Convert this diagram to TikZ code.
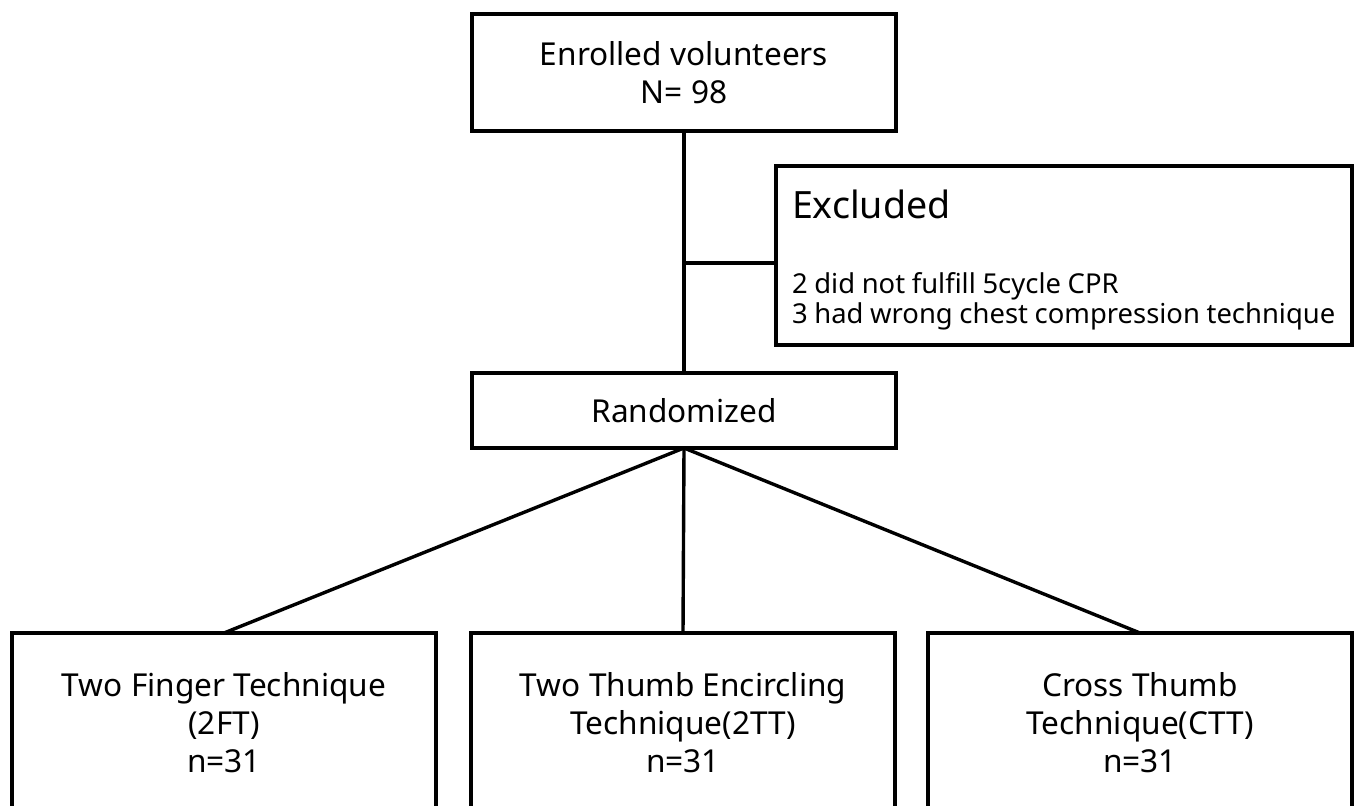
\documentclass[tikz,border=0pt]{standalone}
\usepackage{fontspec}
\setmainfont{Noto Sans}
\usepackage{tikz}
\newcommand{\defaultboxwidth}{212pt}
\newcommand{\mainfont}{\fontsize{15.8}{19}\selectfont}
\newcommand{\smallfont}{\fontsize{13.7}{16}\selectfont}
\newcommand{\headfont}{\fontsize{18.8}{20}\selectfont}
\tikzstyle{box}=[draw, inner sep=0, outer sep=0, align=center, minimum width=\defaultboxwidth, font=\mainfont]
\tikzstyle{groupbox}=[box, minimum height=89pt, text depth=0pt]
\tikzstyle{exclbox}=[draw, inner sep=0, outer sep=0, minimum width=288pt, minimum height=89.5pt]
\tikzstyle{excltext}=[inner sep=0, outer sep=0, align=left, text width=275pt, anchor=north west]
\tikzstyle{flowchart}=[x=0.5pt, y=-0.5pt, line width=1.7pt,
                       % Pixel grid of the original drawing, y pointing down.
                       execute at begin picture={\useasboundingbox (0,0) rectangle (1356,806);}]

\begin{document}
\begin{tikzpicture}[flowchart]
    \clip (0,0) rectangle (1356,806);
    \node[box, minimum height=58.5pt] (enrolled) at (684, 72.5) {Enrolled volunteers\\N= 98};
    \node[exclbox] (excluded) at (1064, 255.5) {};
    \node[excltext] (excludedtext) at ([shift={(8pt,-12.2pt)}]excluded.north west)
        {\smallfont{\headfont Excluded}\\[21.5pt]2 did not fulfill 5cycle CPR\\3 had wrong chest compression technique};
    \node[box, minimum height=37.5pt] (randomized) at (684, 410.5) {Randomized};
    \node[groupbox] (twofinger) at (224, 722) {Two Finger Technique\\(2FT)\\n=31};
    \node[groupbox] (twothumb) at (683, 722) {Two Thumb Encircling\\Technique(2TT)\\n=31};
    \node[groupbox] (crossthumb) at (1140, 722) {Cross Thumb\\Technique(CTT)\\n=31};
    \coordinate (branch) at (enrolled.south |- 0, 263);
    \draw (enrolled.south) -- (randomized.north);
    \draw (branch) -- (branch -| excluded.west);
    \draw (randomized.south) -- (twofinger.north);
    \draw (randomized.south) -- (twothumb.north);
    \draw (randomized.south) -- (crossthumb.north);
\end{tikzpicture}
\end{document}
